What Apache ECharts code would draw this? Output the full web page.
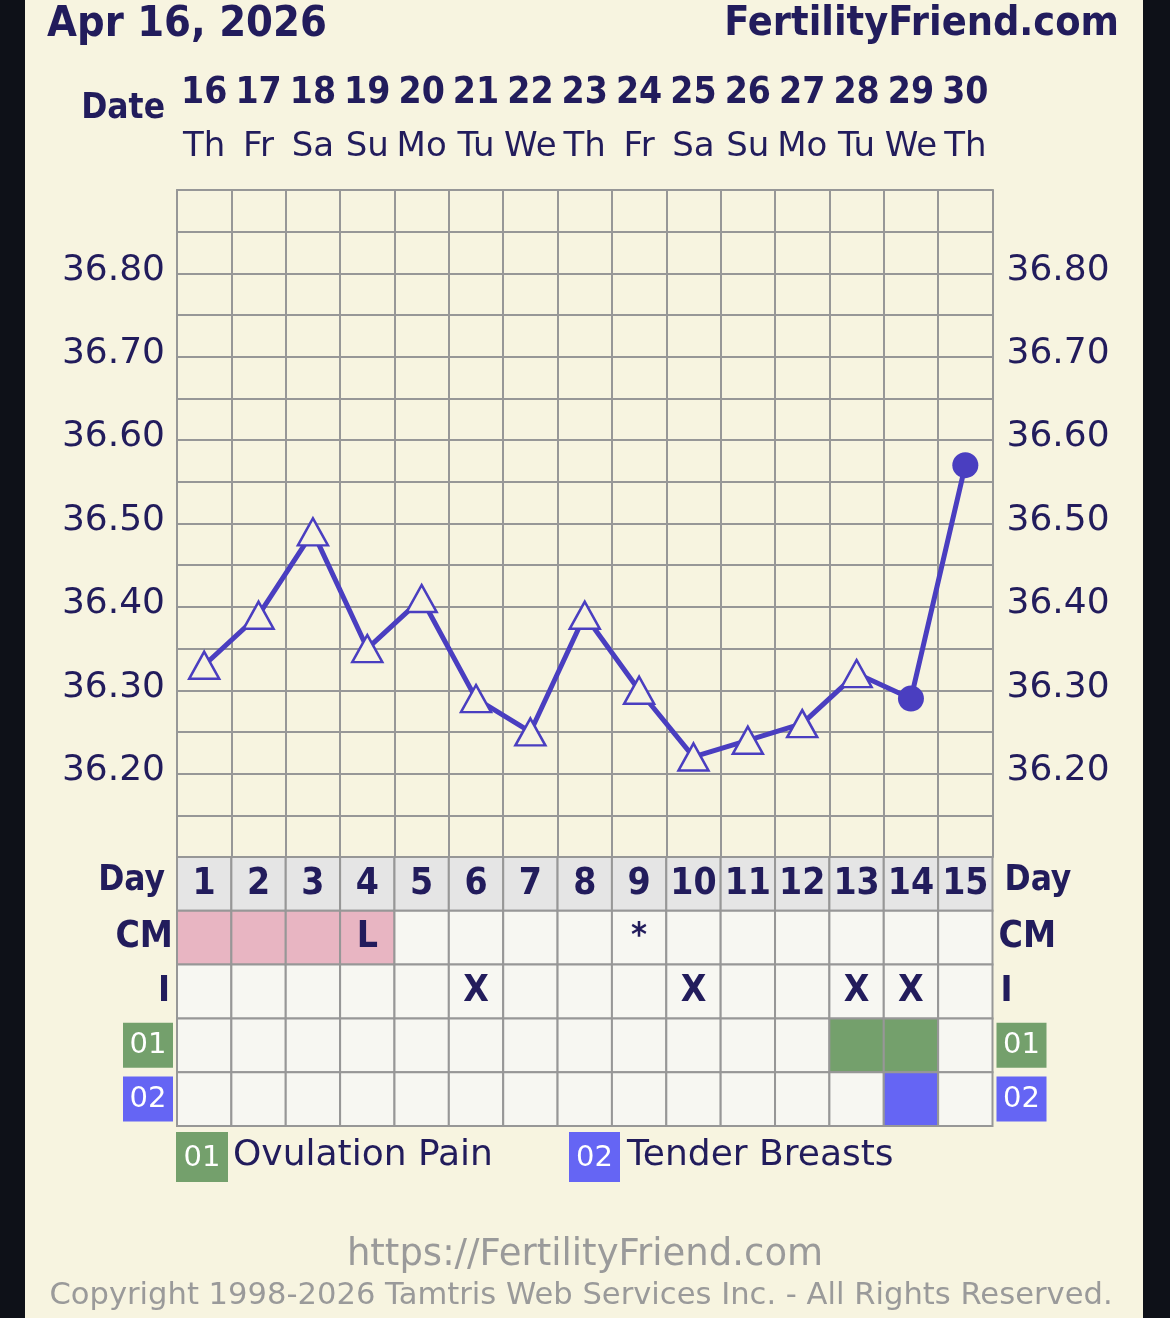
<!DOCTYPE html>
<html><head><meta charset="utf-8">
<script src="https://cdn.jsdelivr.net/npm/echarts@6/dist/echarts.min.js"></script>
<style>html,body{margin:0;padding:0;background:#0e1118;}#c{width:1170px;height:1318px;}</style>
</head><body><div id="c"></div>
<script>
// ---------- data ----------
const dates = ['16','17','18','19','20','21','22','23','24','25','26','27','28','29','30'];
const weekdays = ['Th','Fr','Sa','Su','Mo','Tu','We','Th','Fr','Sa','Su','Mo','Tu','We','Th'];
const cycleDays = ['1','2','3','4','5','6','7','8','9','10','11','12','13','14','15'];
const temps = [36.33,36.39,36.49,36.35,36.41,36.29,36.25,36.39,36.30,36.22,36.24,36.26,36.32,36.29,36.57];
const markerTypes = ['open','open','open','open','open','open','open','open','open','open','open','open','open','filled','filled'];
const tableRows = ['Day','CM','I','01','02'];
const flow = [1,1,1,1,0,0,0,0,0,0,0,0,0,0,0];
const cmText = ['','','','L','','','','','*','','','','','',''];
const intercourse = [0,0,0,0,0,1,0,0,0,1,0,0,1,1,0];
const ovulationPain = [0,0,0,0,0,0,0,0,0,0,0,0,1,1,0];
const tenderBreasts = [0,0,0,0,0,0,0,0,0,0,0,0,0,1,0];
const yTickLabels = ['36.20','36.30','36.40','36.50','36.60','36.70','36.80'];
const legendItems = [{code:'01', name:'Ovulation Pain'}, {code:'02', name:'Tender Breasts'}];

// ---------- style ----------
const CREAM = '#f7f4e0', DARK = '#0e1118', NAVY = '#221c5c', PURPLE = '#4a3ec0';
const GRIDC = '#979797', GREEN = '#74a06c', BLUE = '#6565f4', PINK = '#e8b5c2';
const DAYBG = '#e5e5e5', CELLBG = '#f7f7f2', FOOT = '#9a9a9a';
const BOLD = "'DejaVu Sans Condensed', 'DejaVu Sans', sans-serif";
const REG = "'DejaVu Sans', sans-serif";

// table cells built from arrays
const cells = [];
for (let c = 0; c < 15; c++) {
  cells.push({col:c,row:0,fill:DAYBG,text:cycleDays[c]});
  cells.push({col:c,row:1,fill:flow[c]?PINK:CELLBG,text:cmText[c]});
  cells.push({col:c,row:2,fill:CELLBG,text:intercourse[c]?'X':''});
  cells.push({col:c,row:3,fill:ovulationPain[c]?GREEN:CELLBG,text:''});
  cells.push({col:c,row:4,fill:tenderBreasts[c]?BLUE:CELLBG,text:''});
}

const chart = echarts.init(document.getElementById('c'), null, {renderer:'canvas'});

function yFmt(v){
  const s = (Math.round(v*100)/100).toFixed(2);
  return yTickLabels.indexOf(s) >= 0 ? s : '';
}
const rowRichLeft = {
  b:{fontFamily:BOLD,fontWeight:'bold',fontSize:35,color:NAVY,padding:[0,8,6,0]},
  cm:{fontFamily:BOLD,fontWeight:'bold',fontSize:37,color:NAVY,padding:[0,0,0,0]},
  i:{fontFamily:BOLD,fontWeight:'bold',fontSize:36,color:NAVY,padding:[0,3,0,0]},
  g:{fontFamily:REG,fontSize:29,color:'#fff',backgroundColor:GREEN,width:50,height:45,align:'center',lineHeight:45},
  p:{fontFamily:REG,fontSize:29,color:'#fff',backgroundColor:BLUE,width:50,height:45,align:'center',lineHeight:45}
};
const rowRichRight = JSON.parse(JSON.stringify(rowRichLeft));
rowRichRight.b.padding=[0,0,6,8]; rowRichRight.cm.padding=[0,0,0,2]; rowRichRight.i.padding=[0,0,0,4];
function rowFmt(v){
  if (v==='Day') return '{b|Day}';
  if (v==='CM') return '{cm|CM}';
  if (v==='I') return '{i|I}';
  if (v==='01') return '{g|01}';
  return '{p|02}';
}

const option = {
  animation:false,
  backgroundColor: CREAM,
  grid:[
    {left:177, width:815.5, top:190, height:667, containLabel:false},
    {left:177, width:815.5, top:857, height:269, containLabel:false}
  ],
  xAxis:[
    {type:'category', gridIndex:0, position:'top', data:dates, boundaryGap:true,
     axisLine:{show:true,lineStyle:{color:GRIDC,width:2}}, axisTick:{show:false},
     splitLine:{show:true,lineStyle:{color:GRIDC,width:2}},
     axisLabel:{interval:0, margin:16, color:NAVY,
       formatter:(v,i)=>'{d|'+v+'}\n{w|'+weekdays[i]+'}',
       rich:{d:{fontFamily:BOLD,fontWeight:'bold',fontSize:37,lineHeight:54,color:NAVY},
             w:{fontFamily:REG,fontSize:34,lineHeight:54,color:NAVY}}}},
    {type:'category', gridIndex:1, data:cycleDays, boundaryGap:true,
     axisLine:{show:false}, axisTick:{show:false}, axisLabel:{show:false}, splitLine:{show:false}}
  ],
  yAxis:[
    {type:'value', gridIndex:0, min:36.10, max:36.90, interval:0.05, position:'left',
     axisLine:{show:true,lineStyle:{color:GRIDC,width:2}}, axisTick:{show:false},
     splitLine:{show:true,lineStyle:{color:GRIDC,width:2}},
     axisLabel:{formatter:yFmt, margin:12, fontFamily:REG, fontSize:36, color:NAVY, verticalAlign:'bottom', lineHeight:6}},
    {type:'value', gridIndex:0, min:36.10, max:36.90, interval:0.05, position:'right',
     axisLine:{show:true,lineStyle:{color:GRIDC,width:2}}, axisTick:{show:false},
     splitLine:{show:false},
     axisLabel:{formatter:yFmt, margin:14, fontFamily:REG, fontSize:36, color:NAVY, verticalAlign:'bottom', lineHeight:6}},
    {type:'category', gridIndex:1, data:tableRows, inverse:true, position:'left',
     axisLine:{show:false}, axisTick:{show:false}, splitLine:{show:false},
     axisLabel:{interval:0, margin:4, formatter:rowFmt, rich:rowRichLeft}},
    {type:'category', gridIndex:1, data:tableRows, inverse:true, position:'right',
     axisLine:{show:false}, axisTick:{show:false}, splitLine:{show:false},
     axisLabel:{interval:0, margin:4, formatter:rowFmt, rich:rowRichRight}}
  ],
  series:[
    {type:'custom', xAxisIndex:1, yAxisIndex:2, data:cells.map(c=>[c.col,c.row]),
     renderItem:(params, api)=>{
       const cell = cells[params.dataIndex];
       const p = api.coord([api.value(0), api.value(1)]);
       const s = api.size([1,1]);
       const isAst = cell.text==='*';
       return {type:'rect',
         shape:{x:p[0]-s[0]/2, y:p[1]-s[1]/2, width:s[0], height:s[1]},
         style:{fill:cell.fill, stroke:GRIDC, lineWidth:2},
         textContent:{style:{text:cell.text, fill:NAVY, fontFamily:BOLD, fontWeight:'bold',
           fontSize: isAst?34:37, align:'center', verticalAlign:'middle'}},
         textConfig:{position:'inside', offset:[0, isAst?-1:0]}
       };
     }},
    {type:'line', xAxisIndex:0, yAxisIndex:0, z:5,
     data: temps.map((t,i)=> markerTypes[i]==='filled'
        ? {value:t, symbol:'circle', symbolSize:26, itemStyle:{color:PURPLE, borderColor:PURPLE, borderWidth:0}}
        : {value:t}),
     symbol:'triangle', symbolSize:[30,27], showAllSymbol:true,
     lineStyle:{color:PURPLE, width:5},
     itemStyle:{color:CREAM, borderColor:PURPLE, borderWidth:2.5}}
  ],
  graphic:[
    {type:'rect', shape:{x:0,y:0,width:25,height:1318}, style:{fill:DARK}, silent:true},
    {type:'rect', shape:{x:1143,y:0,width:27,height:1318}, style:{fill:DARK}, silent:true},
    {type:'text', left:47, top:3, style:{text:'Apr 16, 2026', fontFamily:BOLD, fontWeight:'bold', fontSize:43, fill:NAVY}},
    {type:'text', right:1170-1119, top:4, style:{text:'FertilityFriend.com', fontFamily:BOLD, fontWeight:'bold', fontSize:41, fill:NAVY}},
    {type:'text', x:165, y:109, style:{text:'Date', fontFamily:BOLD, fontWeight:'bold', fontSize:35, fill:NAVY, align:'right', verticalAlign:'middle'}},
    {type:'rect', shape:{x:176,y:1132,width:52,height:50}, style:{fill:GREEN}},
    {type:'text', x:202, y:1158, style:{text:legendItems[0].code, fontFamily:REG, fontSize:29, fill:'#fff', align:'center', verticalAlign:'middle'}},
    {type:'text', x:233, y:1156, style:{text:legendItems[0].name, fontFamily:REG, fontSize:36, fill:NAVY, align:'left', verticalAlign:'middle'}},
    {type:'rect', shape:{x:569,y:1132,width:51,height:50}, style:{fill:BLUE}},
    {type:'text', x:594.5, y:1158, style:{text:legendItems[1].code, fontFamily:REG, fontSize:29, fill:'#fff', align:'center', verticalAlign:'middle'}},
    {type:'text', x:627, y:1156, style:{text:legendItems[1].name, fontFamily:REG, fontSize:36, fill:NAVY, align:'left', verticalAlign:'middle'}},
    {type:'text', x:585, y:1255, style:{text:'https://FertilityFriend.com', fontFamily:REG, fontSize:37, fill:FOOT, align:'center', verticalAlign:'middle'}},
    {type:'text', x:581, y:1296, style:{text:'Copyright 1998-2026 Tamtris Web Services Inc. - All Rights Reserved.', fontFamily:REG, fontSize:30.6, fill:FOOT, align:'center', verticalAlign:'middle'}}
  ]
};
chart.setOption(option);
</script></body></html>
